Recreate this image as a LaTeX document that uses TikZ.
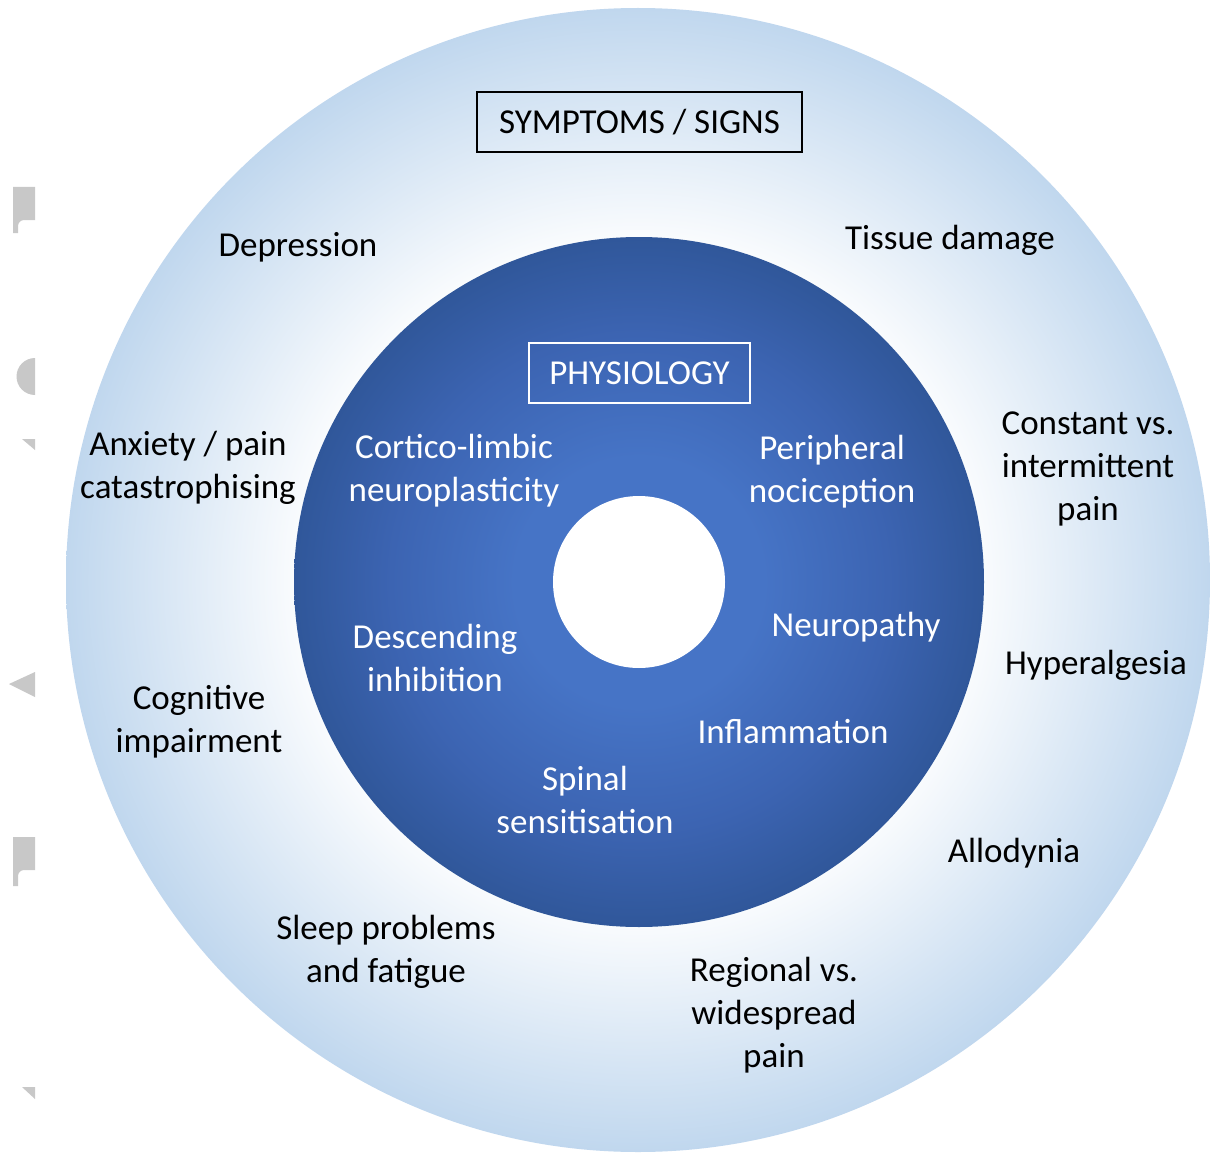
\documentclass[tikz,border=0pt]{standalone}
\usepackage{fontspec}
\setmainfont{Carlito}
\definecolor{obl}{RGB}{192,215,238}
\definecolor{ibc}{RGB}{70,116,198}
\definecolor{ibm}{RGB}{60,100,178}
\definecolor{ibe}{RGB}{48,87,154}
\definecolor{gfrag}{RGB}{200,200,200}
\pgfdeclareradialshading{outerglow}{\pgfpoint{0bp}{0bp}}{color(0bp)=(white); color(14bp)=(white); color(25bp)=(obl); color(50bp)=(obl)}
\pgfdeclareradialshading{innerblue}{\pgfpoint{0bp}{0bp}}{color(0bp)=(ibc); color(9bp)=(ibc); color(18bp)=(ibm); color(25bp)=(ibe); color(50bp)=(ibe)}
\begin{document}
\begin{tikzpicture}[x=1pt,y=-1pt,
  lbl/.style={inner sep=0pt, align=center, font=\fontsize{35}{43}\selectfont, text=black},
  ilbl/.style={lbl, text=white},
  titlebox/.style={draw=black, line width=1.5pt, minimum width=325pt, minimum height=60pt, inner sep=0pt, font=\fontsize{35}{43}\selectfont},
  physbox/.style={draw=white, line width=2pt, minimum width=221pt, minimum height=60pt, inner sep=0pt, text=white, font=\fontsize{35}{43}\selectfont},
  frag/.style={fill=gfrag, draw=none}]
\useasboundingbox (0,0) rectangle (1211,1153);
\fill[white] (0,0) rectangle (1211,1153);
% fragments at left edge
\fill[frag] (13,187) -- (35,187) -- (35,220) -- (24,220) arc (270:180:6) -- (18,233) -- (13,233) -- cycle;
\fill[frag] (35,358) arc (270:90:18.5) -- cycle;
\fill[frag] (22,439) -- (35,439) -- (35,450) -- cycle;
\fill[frag] (9,684) -- (35,672) -- (35,697) -- cycle;
\fill[frag] (13,837) -- (35,837) -- (35,870) -- (24,870) arc (270:180:6) -- (18,886) -- (13,886) -- cycle;
\fill[frag] (22,1087) -- (35,1087) -- (35,1099) -- cycle;
% circles
\shade[shading=outerglow] (638,580) circle (572);
\shade[shading=innerblue] (639,582) circle (345);
\fill[white] (639,582) circle (86);
% boxes
\node[titlebox] (sym) at (639.5,122) {SYMPTOMS / SIGNS};
\node[physbox] (phys) at (639.5,373) {PHYSIOLOGY};
% outer labels
\node[lbl] (dep) at (298,247) {Depression};
\node[lbl] (tis) at (950,240) {Tissue damage};
\node[lbl] (anx) at (188,468) {Anxiety / pain\\catastrophising};
\node[lbl] (con) at (1088,469) {Constant vs.\\intermittent\\pain};
\node[lbl] (hyp) at (1096,665) {Hyperalgesia};
\node[lbl] (cog) at (199,722) {Cognitive\\impairment};
\node[lbl] (all) at (1014,853) {Allodynia};
\node[lbl] (slp) at (386,952) {Sleep problems\\and fatigue};
\node[lbl] (reg) at (774,1015) {Regional vs.\\widespread\\pain};
% inner labels
\node[ilbl] (cor) at (454,471) {Cortico-limbic\\neuroplasticity};
\node[ilbl] (per) at (832,472) {Peripheral\\nociception};
\node[ilbl] (des) at (435,658) {Descending\\inhibition};
\node[ilbl] (neu) at (856,627) {Neuropathy};
\node[ilbl] (inf) at (793,732) {Inflammation};
\node[ilbl] (spi) at (585,800) {Spinal\\sensitisation};
\end{tikzpicture}
\end{document}
